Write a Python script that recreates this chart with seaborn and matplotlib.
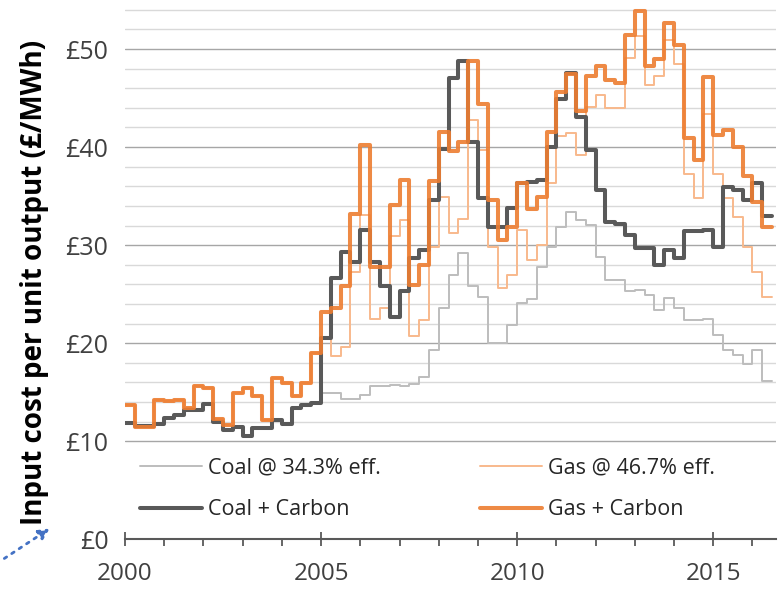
import numpy as np
import pandas as pd
import matplotlib
matplotlib.use('Agg')
import matplotlib.pyplot as plt
from matplotlib.ticker import MultipleLocator, FixedLocator, FuncFormatter
import seaborn as sns

# Quarterly input costs (GBP/MWh), 2000 Q1 .. 2016 Q2
quarters = 2000 + 0.25 * np.arange(66)

coal_eff = [11.9, 11.6, 11.6, 11.8, 12.4, 12.7, 13.2, 13.2, 13.8, 12.0, 11.1, 11.5,
            10.5, 11.3, 11.3, 12.2, 11.8, 13.4, 13.7, 13.9,
            14.9, 14.9, 14.3, 14.3, 14.7, 15.6, 15.6, 15.7, 15.6, 15.8, 16.6, 19.3,
            23.6, 27.0, 29.2, 25.8, 24.7, 20.0, 20.0, 21.9, 24.1, 24.5, 27.8, 29.8,
            31.9, 33.4, 32.6, 32.1, 28.8, 26.4, 26.4, 25.3, 25.4, 24.9, 23.4, 24.6,
            23.6, 22.4, 22.4, 22.5, 20.8, 19.3, 18.8, 17.9, 19.3, 16.1]

gas_eff = [13.7, 11.5, 11.5, 14.2, 14.1, 14.2, 13.4, 15.6, 15.4, 12.3, 11.7, 14.9,
           15.4, 14.6, 12.2, 16.4, 15.9, 14.6, 15.9, 19.0,
           20.6, 18.7, 19.6, 27.3, 33.1, 22.5, 23.6, 30.9, 32.6, 20.7, 22.4, 29.8,
           34.9, 31.2, 32.7, 42.8, 39.7, 29.8, 25.6, 27.0, 31.5, 28.5, 30.0, 36.3,
           41.1, 41.4, 39.2, 44.1, 45.3, 44.0, 44.0, 49.1, 51.3, 46.3, 47.2, 50.9,
           48.5, 37.3, 34.8, 43.4, 37.3, 34.8, 32.9, 29.8, 27.3, 24.7]

coal_carbon = [11.9, 11.6, 11.6, 11.8, 12.4, 12.7, 13.2, 13.2, 13.8, 12.0, 11.1, 11.5,
               10.5, 11.3, 11.3, 12.2, 11.8, 13.4, 13.7, 13.9,
               20.5, 26.6, 29.3, 28.3, 31.5, 28.3, 25.8, 22.7, 25.3, 28.7, 29.5, 34.6,
               39.8, 47.0, 48.8, 40.5, 34.8, 31.9, 31.9, 33.8, 36.3, 36.4, 36.6, 40.0,
               44.9, 47.6, 43.1, 39.7, 35.6, 32.4, 32.2, 31.0, 29.7, 29.7, 28.0, 29.5,
               28.7, 31.4, 31.4, 31.5, 29.8, 35.9, 35.6, 34.6, 36.3, 33.0]

gas_carbon = [13.7, 11.5, 11.5, 14.2, 14.1, 14.2, 13.4, 15.6, 15.4, 12.3, 11.7, 14.9,
              15.4, 14.6, 12.2, 16.4, 15.9, 14.6, 15.9, 19.0,
              23.2, 23.6, 25.8, 33.2, 40.2, 27.8, 27.8, 34.1, 36.6, 25.9, 28.0, 36.5,
              41.5, 39.6, 40.5, 48.8, 44.4, 34.6, 30.5, 31.9, 36.3, 33.7, 34.9, 41.5,
              45.6, 47.5, 43.7, 47.3, 48.3, 46.8, 46.5, 51.4, 53.9, 48.3, 49.0, 52.7,
              50.4, 40.9, 38.7, 47.1, 41.2, 41.7, 40.0, 37.0, 34.4, 31.8]

labels = ['Coal @ 34.3% eff.', 'Gas @ 46.7% eff.', 'Coal + Carbon', 'Gas + Carbon']


def stepped(values):
    """Add the closing edge of the last quarter so the final step is drawn"""
    x = np.append(quarters, quarters[-1] + 0.25)
    y = np.append(values, values[-1])
    return pd.DataFrame({'year': x, 'cost': y})


sns.set_theme(style='white')
plt.rcParams['font.family'] = ['Open Sans', 'DejaVu Sans']

fig = plt.figure(figsize=(7.79, 5.9), dpi=100)
ax = fig.add_axes([125 / 779, 50.7 / 590, 651 / 779, 539.3 / 590])

styles = [
    (coal_eff, '#BDBDBD', 1.4, 1.0),
    (gas_eff, '#F8B98C', 1.4, 1.0),
    (coal_carbon, '#595959', 2.9, 1.0),
    (gas_carbon, '#ED7D31', 2.9, 0.9),
]
for label, (vals, color, lw, alpha) in zip(labels, styles):
    sns.lineplot(data=stepped(vals), x='year', y='cost', drawstyle='steps-post',
                 color=color, linewidth=lw, alpha=alpha, label=label, ax=ax)

ax.set_xlim(2000, 2016.6)
ax.set_ylim(0, 55)

# gridlines
ax.yaxis.set_major_locator(MultipleLocator(10))
ax.yaxis.set_minor_locator(FixedLocator(np.arange(12, 55, 2)))
ax.grid(which='major', axis='y', color='#A6A6A6', linewidth=1.0)
ax.grid(which='minor', axis='y', color='#D9D9D9', linewidth=1.0)
ax.grid(which='major', axis='x', visible=False)
ax.set_axisbelow(True)

ax.yaxis.set_major_formatter(FuncFormatter(lambda v, p: f'£{v:.0f}'))
ax.tick_params(axis='y', which='both', length=0, pad=12, labelsize=18, labelcolor='#404040')

ax.xaxis.set_major_locator(MultipleLocator(5))
ax.xaxis.set_minor_locator(MultipleLocator(1))
ax.tick_params(axis='x', which='major', direction='inout', length=10, width=1.3,
               color='#595959', labelsize=17.5, labelcolor='#404040', pad=11, bottom=True)
ax.tick_params(axis='x', which='minor', direction='out', length=5, width=1.3,
               color='#595959', bottom=True)

for side in ['top', 'right', 'left']:
    ax.spines[side].set_visible(False)
ax.spines['bottom'].set_color('#595959')
ax.spines['bottom'].set_linewidth(1.5)

ax.set_xlabel('')
ax.set_ylabel('Input cost per unit output (£/MWh)', fontweight='bold', fontsize=20, color='black')
ax.yaxis.set_label_coords(-0.117, 0.477)

# legend: coal entries in the first column, gas in the second
handles, _ = ax.get_legend_handles_labels()
order = [0, 2, 1, 3]
ax.legend([handles[i] for i in order], [labels[i] for i in order],
          ncol=2, loc='center left', bbox_to_anchor=(0.023, 0.093),
          frameon=False, fontsize=15.5, handlelength=2.9, handletextpad=0.25,
          columnspacing=4.6, labelspacing=0.95, borderpad=0, borderaxespad=0,
          labelcolor='#262626')

# dotted pointer arrow in the lower left corner
ax.annotate('', xy=(52, 63), xytext=(2, 30), xycoords='figure pixels',
            textcoords='figure pixels', annotation_clip=False,
            arrowprops=dict(arrowstyle='-|>', linestyle=(0, (1, 2.2)), color='#4472C4',
                            lw=2, mutation_scale=16))

fig.savefig('out.png', dpi=100)
